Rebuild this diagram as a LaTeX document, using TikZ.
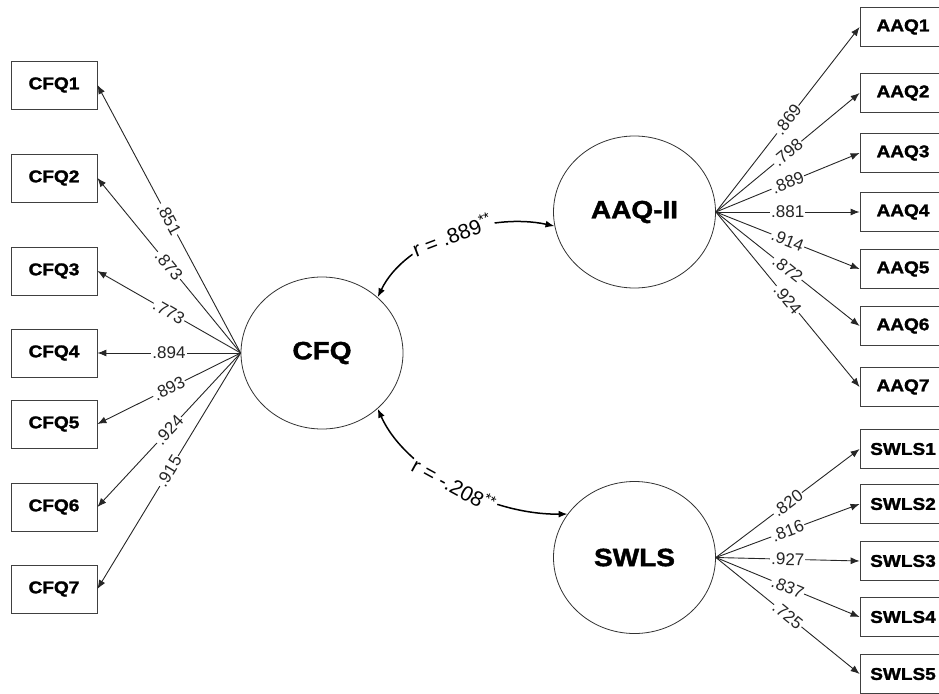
\documentclass[tikz,border=0pt]{standalone}
\usepackage{fontspec}
\setmainfont{Liberation Sans}
\newfontfamily\heavyfont{Liberation Sans}[FakeStretch=1.12, BoldFeatures={FakeBold=1.6}]
\usetikzlibrary{arrows.meta,shapes.geometric}
\tikzset{
  item/.style={draw=black!75, line width=0.8pt, minimum width=86pt, minimum height=48pt, inner sep=0pt,
    font=\heavyfont\bfseries\fontsize{17}{20}\selectfont},
  latent/.style={draw=black!80, line width=0.8pt, ellipse, minimum width=162pt, minimum height=152pt, inner sep=0pt,
    font=\heavyfont\bfseries\fontsize{25}{30}\selectfont},
  load/.style={black!85, line width=0.9pt, -{Latex[length=9pt,width=7pt]}},
  coef/.style={sloped, fill=white, inner sep=1pt, font=\fontsize{17}{19}\selectfont},
  cov/.style={line width=1.5pt, {Latex[length=9pt,width=7pt]}-{Latex[length=9pt,width=7pt]}},
  rlabel/.style={sloped, fill=white, inner sep=2pt, font=\fontsize{21}{24}\selectfont}
}
\begin{document}
\begin{tikzpicture}[x=1pt,y=-1pt]
\useasboundingbox (0,0) rectangle (939,693);
\node[latent] (cfq) at (322,353) {CFQ};
\node[latent] (aaq) at (634.5,212) {AAQ-II};
\node[latent] (swls) at (634.5,557.5) {SWLS};
\foreach \y [count=\i] in {85,178,271,353,424,507,589}
  \node[item] (cfq\i) at (54,\y) {CFQ\i};
\foreach \y [count=\i] in {27,93,153,212,269,326,387}
  \node[item, minimum height=39pt] (aaq\i) at (903,\y) {AAQ\i};
\foreach \y [count=\i] in {449,504,561,617,674}
  \node[item, minimum height=39pt] (swls\i) at (903,\y) {SWLS\i};
\foreach \v [count=\i] in {.851,.873,.773,.894,.893,.924,.915}
  \draw[load] (cfq.west) -- node[coef] (lc\i) {\v} (cfq\i.east);
\foreach \v [count=\i] in {.869,.798,.889,.881,.914,.872,.924}
  \draw[load] (aaq.east) -- node[coef] (la\i) {\v} (aaq\i.west);
\foreach \v [count=\i] in {.820,.816,.927,.837,.725}
  \draw[load] (swls.east) -- node[coef] (ls\i) {\v} (swls\i.west);
\draw[cov] (cfq.45) .. controls (405,240) and (490,212) .. node[rlabel] (r1) {r = .889\textsuperscript{**}} (aaq.190);
\draw[cov] (cfq.-45) .. controls (405,470) and (490,515) .. node[rlabel] (r2) {r = -.208\textsuperscript{**}} (swls.147);
\end{tikzpicture}
\end{document}
